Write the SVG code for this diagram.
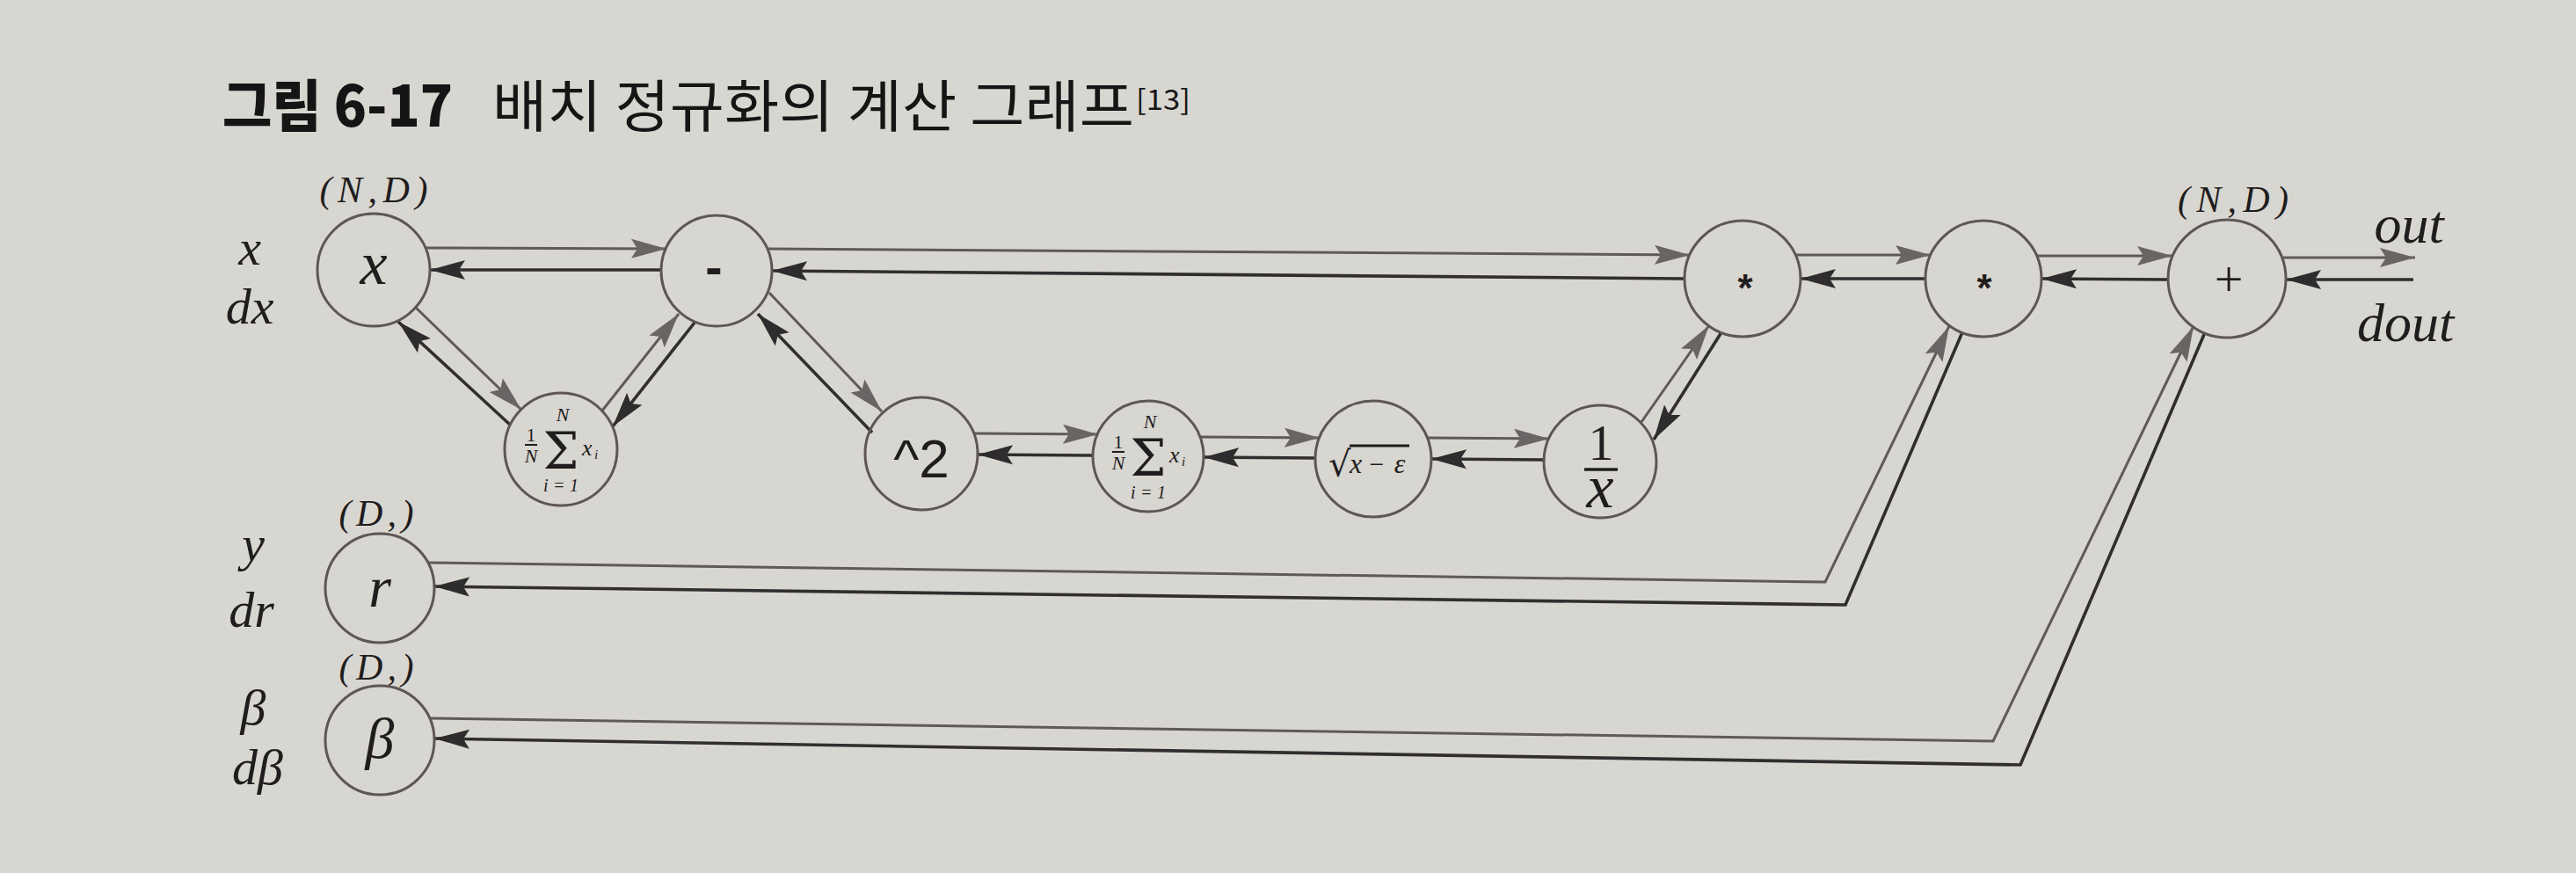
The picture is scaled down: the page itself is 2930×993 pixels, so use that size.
<svg xmlns="http://www.w3.org/2000/svg" width="2930" height="993" viewBox="0 0 2930 993">
<style>
.bg{fill:#d8d6d0}
.node{fill:none;stroke:#5e5656;stroke-width:3}
.f{fill:none;stroke:#5f5a5a;stroke-width:3;marker-end:url(#arrF)}
.b{fill:none;stroke:#302e2e;stroke-width:3.6;marker-end:url(#arrB)}
.m{font-family:"Liberation Serif",serif;font-style:italic;fill:#1f1d1d}
.r{font-family:"Liberation Serif",serif;fill:#1f1d1d}
.s{font-family:"Liberation Sans",Arial,sans-serif;fill:#1f1d1d}
.k{font-family:"Noto Sans CJK KR",sans-serif;fill:#161515}
.bar{stroke:#1f1d1d;stroke-width:3.5}
.sig{font-family:"DejaVu Serif",serif;fill:#1f1d1d}
</style>
<defs>
<marker id="arrF" markerUnits="userSpaceOnUse" markerWidth="42" markerHeight="24" refX="40" refY="12" orient="auto" viewBox="0 0 42 24">
<path d="M0,1 L40,12 L0,23 L7,12 Z" fill="#6a6464"/>
</marker>
<marker id="arrB" markerUnits="userSpaceOnUse" markerWidth="42" markerHeight="24" refX="40" refY="12" orient="auto" viewBox="0 0 42 24">
<path d="M0,1 L40,12 L0,23 L7,12 Z" fill="#2e2c2c"/>
</marker>
</defs>
<rect class="bg" x="0" y="0" width="2930" height="993"/>

<g id="title">
<text class="k" x="253" y="144" font-size="64" font-weight="900" textLength="262" lengthAdjust="spacingAndGlyphs">그림 6-17</text>
<text class="k" x="560" y="144" font-size="64" textLength="730" lengthAdjust="spacingAndGlyphs">배치 정규화의 계산 그래프</text>
<text class="k" x="1292" y="125" font-size="32" textLength="62" lengthAdjust="spacingAndGlyphs">[13]</text>
</g>

<g id="connectors">
<line class="f" x1="484" y1="282" x2="758" y2="283"/>
<line class="b" x1="752" y1="307" x2="489" y2="307"/>
<line class="f" x1="473" y1="350" x2="593" y2="466"/>
<line class="b" x1="580" y1="483" x2="453" y2="366"/>
<line class="f" x1="685" y1="467" x2="772" y2="357"/>
<line class="b" x1="790" y1="367" x2="697" y2="485"/>
<line class="f" x1="875" y1="333" x2="1003" y2="468"/>
<line class="b" x1="992" y1="492" x2="862" y2="357"/>
<line class="f" x1="1108" y1="493" x2="1249" y2="494"/>
<line class="b" x1="1243" y1="518" x2="1112" y2="517"/>
<line class="f" x1="1365" y1="497" x2="1501" y2="498"/>
<line class="b" x1="1496" y1="521" x2="1369" y2="520"/>
<line class="f" x1="1623" y1="498" x2="1762" y2="499"/>
<line class="b" x1="1756" y1="523" x2="1628" y2="522"/>
<line class="f" x1="1867" y1="480" x2="1944" y2="370"/>
<line class="b" x1="1958" y1="378" x2="1881" y2="500"/>
<line class="f" x1="872" y1="283" x2="1922" y2="290"/>
<line class="b" x1="1916" y1="317" x2="878" y2="308"/>
<line class="f" x1="2042" y1="290" x2="2196" y2="290"/>
<line class="b" x1="2190" y1="317" x2="2048" y2="317"/>
<line class="f" x1="2316" y1="291" x2="2471" y2="291"/>
<line class="b" x1="2466" y1="318" x2="2322" y2="317"/>
<line class="f" x1="2597" y1="293" x2="2747" y2="293"/>
<line class="b" x1="2745" y1="318" x2="2600" y2="318"/>
<polyline class="f" points="487,640 2076,662 2217,371"/>
<polyline class="b" points="2232,378 2099,688 494,667"/>
<polyline class="f" points="489,817 2267,843 2495,371"/>
<polyline class="b" points="2508,378 2298,870 494,840"/>
</g>

<g id="node-x">
<circle class="node" cx="425" cy="307" r="64"/>
<text class="m" x="425" y="323" font-size="70" text-anchor="middle">x</text>
<text class="m" x="425" y="230" font-size="42" text-anchor="middle" textLength="123" lengthAdjust="spacing">(N,D)</text>
<text class="m" x="284" y="301" font-size="58" text-anchor="middle">x</text>
<text class="m" x="284" y="368" font-size="58" text-anchor="middle">dx</text>
</g>

<g id="node-minus">
<circle class="node" cx="815" cy="308" r="63"/>
<text class="s" x="812" y="324" font-size="58" font-weight="bold" text-anchor="middle">-</text>
</g>

<g id="node-mean1" transform="translate(638,511)">
<circle class="node" cx="0" cy="0" r="64"/>
<text class="r" x="-34" y="-9" font-size="22" text-anchor="middle">1</text>
<line x1="-41" y1="-5" x2="-27" y2="-5" stroke="#1f1d1d" stroke-width="2"/>
<text class="m" x="-34" y="15" font-size="22" text-anchor="middle">N</text>
<text class="sig" x="0" y="22" font-size="58" text-anchor="middle">Σ</text>
<text class="m" x="2" y="-32" font-size="22" text-anchor="middle">N</text>
<text class="m" x="0" y="48" font-size="20" text-anchor="middle" textLength="40" lengthAdjust="spacing">i=1</text>
<text class="m" x="24" y="7" font-size="26">x</text>
<text class="m" x="38" y="11" font-size="15">i</text>
</g>

<g id="node-square">
<circle class="node" cx="1048" cy="516" r="64"/>
<text class="s" x="1048" y="543" font-size="62" text-anchor="middle">^2</text>
</g>

<g id="node-mean2" transform="translate(1306,519)">
<circle class="node" cx="0" cy="0" r="63"/>
<text class="r" x="-34" y="-9" font-size="22" text-anchor="middle">1</text>
<line x1="-41" y1="-5" x2="-27" y2="-5" stroke="#1f1d1d" stroke-width="2"/>
<text class="m" x="-34" y="15" font-size="22" text-anchor="middle">N</text>
<text class="sig" x="0" y="22" font-size="58" text-anchor="middle">Σ</text>
<text class="m" x="2" y="-32" font-size="22" text-anchor="middle">N</text>
<text class="m" x="0" y="48" font-size="20" text-anchor="middle" textLength="40" lengthAdjust="spacing">i=1</text>
<text class="m" x="24" y="7" font-size="26">x</text>
<text class="m" x="38" y="11" font-size="15">i</text>
</g>

<g id="node-sqrt">
<circle class="node" cx="1562" cy="522" r="66"/>
<text x="1511" y="542" font-size="40" style="font-family:'DejaVu Sans',sans-serif;fill:#1f1d1d">√</text>
<line x1="1535" y1="507" x2="1603" y2="507" stroke="#1f1d1d" stroke-width="3"/>
<text class="m" x="1542" y="538" font-size="32" text-anchor="middle">x</text>
<text class="r" x="1566" y="538" font-size="30" text-anchor="middle">−</text>
<text class="m" x="1592" y="538" font-size="32" text-anchor="middle">ε</text>
</g>

<g id="node-inv">
<circle class="node" cx="1820" cy="525" r="64"/>
<text class="r" x="1821" y="523" font-size="58" text-anchor="middle">1</text>
<line class="bar" x1="1802" y1="534" x2="1840" y2="534"/>
<text class="m" x="1820" y="577" font-size="70" text-anchor="middle">x</text>
</g>

<g id="node-mul1">
<circle class="node" cx="1982" cy="317" r="66"/>
<text class="s" x="1985" y="343" font-size="44" font-weight="bold" text-anchor="middle">*</text>
</g>

<g id="node-mul2">
<circle class="node" cx="2256" cy="317" r="66"/>
<text class="s" x="2257" y="343" font-size="44" font-weight="bold" text-anchor="middle">*</text>
</g>

<g id="node-plus">
<circle class="node" cx="2533" cy="317" r="67"/>
<text class="r" x="2535" y="337" font-size="58" text-anchor="middle">+</text>
<text class="m" x="2540" y="241" font-size="42" text-anchor="middle" textLength="126" lengthAdjust="spacing">(N,D)</text>
<text class="m" x="2740" y="276" font-size="62" text-anchor="middle">out</text>
<text class="m" x="2736" y="388" font-size="62" text-anchor="middle">dout</text>
</g>

<g id="node-gamma">
<circle class="node" cx="432" cy="669" r="62"/>
<text class="m" x="432" y="690" font-size="66" text-anchor="middle">r</text>
<text class="m" x="428" y="598" font-size="42" text-anchor="middle" textLength="85" lengthAdjust="spacing">(D,)</text>
<text class="m" x="288" y="638" font-size="58" text-anchor="middle">y</text>
<text class="m" x="286" y="713" font-size="58" text-anchor="middle">dr</text>
</g>

<g id="node-beta">
<circle class="node" cx="432" cy="842" r="62"/>
<text class="m" x="432" y="862" font-size="66" text-anchor="middle">β</text>
<text class="m" x="428" y="773" font-size="42" text-anchor="middle" textLength="85" lengthAdjust="spacing">(D,)</text>
<text class="m" x="288" y="824" font-size="58" text-anchor="middle">β</text>
<text class="m" x="293" y="892" font-size="58" text-anchor="middle">dβ</text>
</g>
</svg>
